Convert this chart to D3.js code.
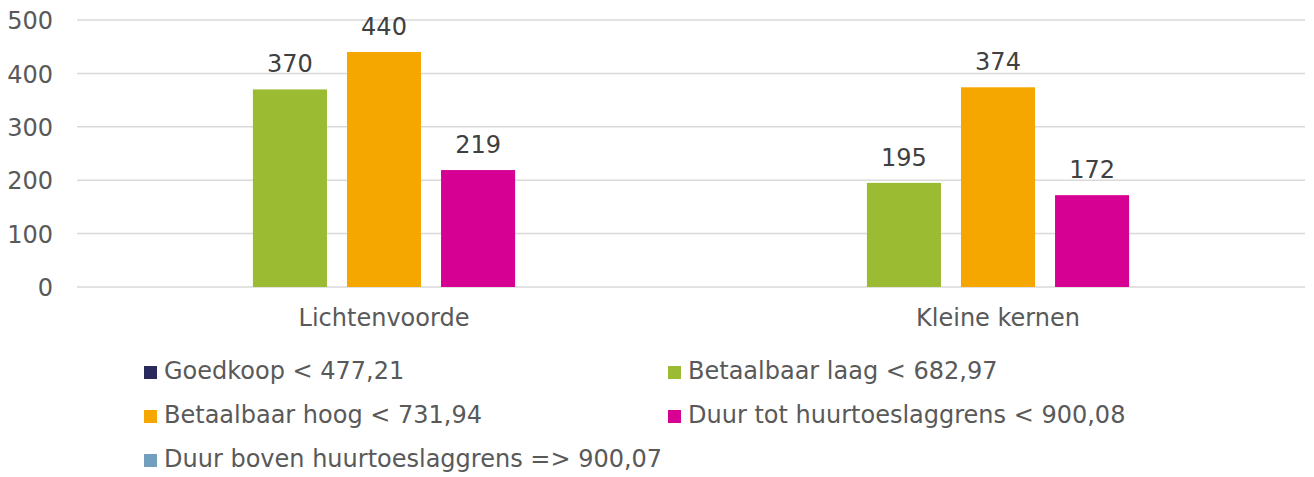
<!DOCTYPE html>
<html>
<head>
<meta charset="utf-8">
<script src="https://cdn.jsdelivr.net/npm/d3@7"></script>
<style>
  html, body { margin: 0; padding: 0; background: #fff; }
  svg text { font-family: "DejaVu Sans", Verdana, sans-serif; }
</style>
</head>
<body>
<svg id="chart" width="1314" height="477"></svg>
<script>
// Rental price classes per area (number of dwellings)
const categories = ["Lichtenvoorde", "Kleine kernen"];
const seriesNames = [
  "Goedkoop < 477,21",
  "Betaalbaar laag < 682,97",
  "Betaalbaar hoog < 731,94",
  "Duur tot huurtoeslaggrens < 900,08",
  "Duur boven huurtoeslaggrens => 900,07"
];
const seriesColors = ["#2b2a5c", "#9bbb33", "#f5a700", "#d60093", "#739fbf"];
const goedkoop = [null, null];
const betaalbaarLaag = [370, 195];
const betaalbaarHoog = [440, 374];
const duurTot = [219, 172];
const duurBoven = [null, null];
const yTicks = [0, 100, 200, 300, 400, 500];

const seriesValues = [goedkoop, betaalbaarLaag, betaalbaarHoog, duurTot, duurBoven];

const FONT = "24px";
const svg = d3.select("#chart");
const plot = { left: 77, right: 1305, top: 20, bottom: 287 };

const y = d3.scaleLinear().domain([0, 500]).range([plot.bottom, plot.top]);
const x0 = d3.scaleBand().domain(categories).range([plot.left, plot.right]).padding(0);
const x1 = d3.scaleBand().domain(seriesNames)
  .range([0, x0.bandwidth()])
  .paddingInner(0.2128)
  .paddingOuter(0.87);

// Gridlines
svg.append("g")
  .selectAll("line")
  .data(yTicks)
  .join("line")
  .attr("x1", plot.left)
  .attr("x2", plot.right)
  .attr("y1", d => y(d))
  .attr("y2", d => y(d))
  .attr("stroke", "#d9d9d9")
  .attr("stroke-width", 1.5);

// Y axis labels
const yAxis = d3.axisLeft(y).tickValues(yTicks).tickSize(0).tickPadding(0);
const yg = svg.append("g").attr("transform", `translate(${plot.left - 24},0)`).call(yAxis);
yg.select(".domain").remove();
yg.selectAll("text")
  .attr("fill", "#595959")
  .style("font-size", FONT)
  .attr("dy", "0.36em");

// Category labels
const xAxis = d3.axisBottom(x0).tickSize(0).tickPadding(0);
const xg = svg.append("g").attr("transform", `translate(0,${plot.bottom})`).call(xAxis);
xg.select(".domain").remove();
xg.selectAll("text")
  .attr("fill", "#595959")
  .style("font-size", FONT)
  .attr("y", 39)
  .attr("dy", 0);

// Bars and value labels
const rows = [];
categories.forEach((c, ci) => {
  seriesNames.forEach((s, si) => {
    const v = seriesValues[si][ci];
    if (v != null) rows.push({ c, s, v, color: seriesColors[si] });
  });
});

const g = svg.append("g");
g.selectAll("rect")
  .data(rows)
  .join("rect")
  .attr("x", d => x0(d.c) + x1(d.s))
  .attr("width", x1.bandwidth())
  .attr("y", d => y(d.v))
  .attr("height", d => y(0) - y(d.v))
  .attr("fill", d => d.color);

g.selectAll("text")
  .data(rows)
  .join("text")
  .attr("x", d => x0(d.c) + x1(d.s) + x1.bandwidth() / 2)
  .attr("y", d => y(d.v) - 17)
  .attr("text-anchor", "middle")
  .attr("fill", "#404040")
  .style("font-size", FONT)
  .text(d => d.v);

// Legend
const legendCols = [144, 668];
const legendRowY = [379, 423, 467];
const legend = svg.append("g")
  .selectAll("g")
  .data(seriesNames)
  .join("g")
  .attr("transform", (d, i) => `translate(${legendCols[i % 2]},${legendRowY[Math.floor(i / 2)]})`);
legend.append("rect")
  .attr("x", 0)
  .attr("y", -13)
  .attr("width", 13)
  .attr("height", 13)
  .attr("fill", (d, i) => seriesColors[i]);
legend.append("text")
  .attr("x", 20)
  .attr("y", 0)
  .attr("fill", "#595959")
  .style("font-size", FONT)
  .text(d => d);
</script>
</body>
</html>
